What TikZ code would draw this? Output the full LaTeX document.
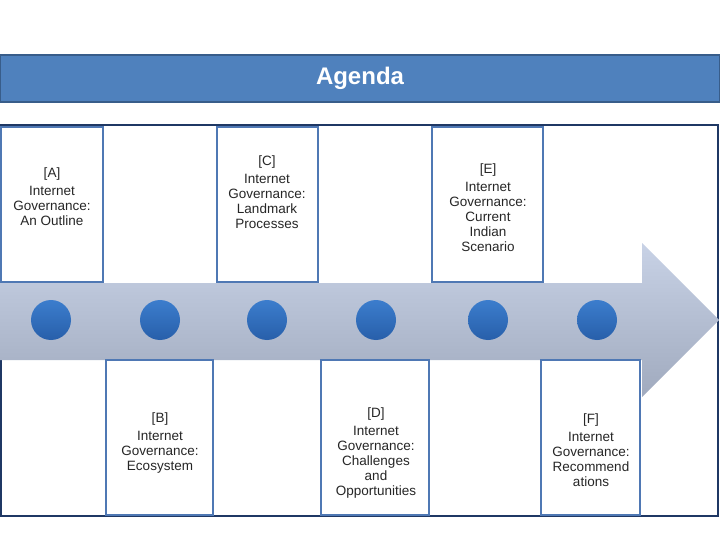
\documentclass[tikz,border=0pt]{standalone}
\usepackage{fontspec}
\setmainfont{Liberation Sans}
\begin{document}
\begin{tikzpicture}[x=1pt,y=-1pt,
  bx/.style={draw={rgb,255:red,79;green,120;blue,180}, line width=2pt, fill=white},
  lbl/.style={align=center, font=\fontsize{13.5}{15}\selectfont, text=black!85},
  dot/.style={circle, minimum size=40pt, inner sep=0pt, top color={rgb,255:red,60;green,125;blue,205}, bottom color={rgb,255:red,40;green,95;blue,170}}]
\useasboundingbox (0,0) rectangle (720,540);
\definecolor{tb}{RGB}{79,129,189}
\definecolor{tbd}{RGB}{56,93,138}
\definecolor{frm}{RGB}{31,56,100}
% title
\node[draw=tbd, line width=1.2pt, fill=tb, minimum width=720pt, minimum height=47pt, inner sep=0pt, text=white, font=\fontsize{24}{28}\selectfont\bfseries] (title) at (360,78.5) {Agenda};
% frame
\draw[frm, line width=2pt] (1,125) rectangle (718,516);
% arrow
\shade[top color={rgb,255:red,200;green,210;blue,230}, bottom color={rgb,255:red,160;green,170;blue,190}]
  (0,283) -- (642,283) -- (642,243) -- (719,320) -- (642,397) -- (642,360) -- (0,360) -- cycle;
% boxes
\draw[bx] (1,127) rectangle (103,282);
\draw[bx] (217,127) rectangle (318,282);
\draw[bx] (432,127) rectangle (543,282);
\draw[bx] (106,360) rectangle (213,515);
\draw[bx] (321,360) rectangle (429,515);
\draw[bx] (541,360) rectangle (640,515);
\node[lbl] (a) at (52,197) {[A]\\[3pt]Internet\\Governance:\\An Outline};
\node[lbl] (c) at (267,192) {[C]\\[3pt]Internet\\Governance:\\Landmark\\Processes};
\node[lbl] (e) at (488,208) {[E]\\[3pt]Internet\\Governance:\\Current\\Indian\\Scenario};
\node[lbl] (b) at (160,443) {[B]\\[3pt]Internet\\Governance:\\Ecosystem};
\node[lbl] (d) at (376,453) {[D]\\[3pt]Internet\\Governance:\\Challenges\\and\\Opportunities};
\node[lbl] (f) at (591,450) {[F]\\[3pt]Internet\\Governance:\\Recommend\\ations};
% dots
\foreach \n/\x in {d1/51,d2/160,d3/267,d4/376,d5/488,d6/597}
  \node[dot] (\n) at (\x,320) {};
\end{tikzpicture}
\end{document}
